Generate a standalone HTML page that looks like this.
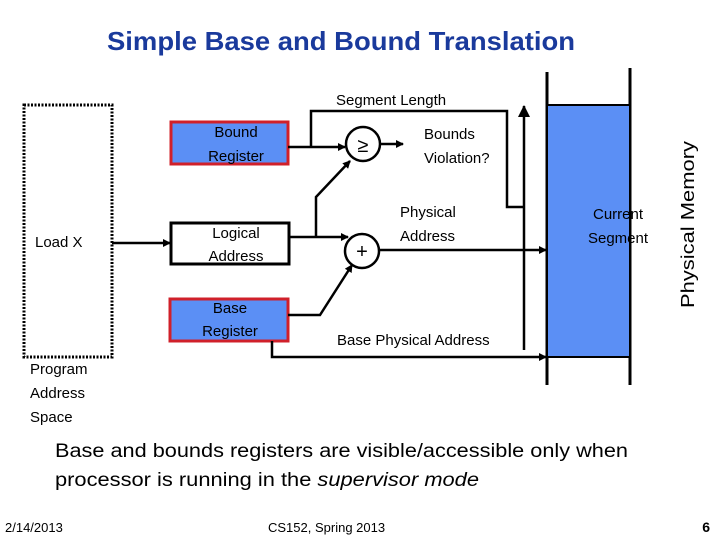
<!DOCTYPE html>
<html><head><meta charset="utf-8"><style>
html,body{margin:0;padding:0;background:#fff;width:720px;height:540px;overflow:hidden}
svg{display:block;font-family:"Liberation Sans",sans-serif}
</style></head><body>
<svg width="720" height="540" viewBox="0 0 720 540" xmlns="http://www.w3.org/2000/svg">
<defs>
<marker id="a" markerWidth="8" markerHeight="8" refX="7" refY="4" orient="auto" markerUnits="userSpaceOnUse">
<path d="M0,0 L8,4 L0,8 z" fill="#000"/></marker>
<marker id="b" markerWidth="12" markerHeight="12" refX="11" refY="6" orient="auto" markerUnits="userSpaceOnUse">
<path d="M0,0 L12,6 L0,12 z" fill="#000"/></marker>
</defs>
<text x="107" y="50" font-size="26" font-weight="bold" fill="#1a3a9c" textLength="468" lengthAdjust="spacingAndGlyphs">Simple Base and Bound Translation</text>

<rect x="24" y="105" width="88" height="252" fill="none" stroke="#000" stroke-width="3" stroke-dasharray="2,1.5"/>
<text x="35" y="247" font-size="15">Load X</text>
<text x="30" y="374" font-size="15">Program</text>
<text x="30" y="398" font-size="15">Address</text>
<text x="30" y="422" font-size="15">Space</text>
<line x1="112" y1="243" x2="170" y2="243" stroke="#000" stroke-width="2.5" marker-end="url(#a)"/>

<line x1="547" y1="72" x2="547" y2="385" stroke="#000" stroke-width="3"/>
<line x1="630" y1="68" x2="630" y2="385" stroke="#000" stroke-width="3"/>
<rect x="547" y="105" width="83" height="252" fill="#5b8ff5" stroke="#000" stroke-width="2"/>
<text x="618" y="219" font-size="15" text-anchor="middle">Current</text>
<text x="618" y="243" font-size="15" text-anchor="middle">Segment</text>
<text transform="translate(694,308) rotate(-90)" font-size="18" textLength="167" lengthAdjust="spacingAndGlyphs">Physical Memory</text>

<rect x="171" y="122" width="117" height="42" fill="#5b8ff5" stroke="#d0202a" stroke-width="3"/>
<text x="236" y="137" font-size="15" text-anchor="middle">Bound</text>
<text x="236" y="161" font-size="15" text-anchor="middle">Register</text>
<rect x="171" y="223" width="118" height="41" fill="#fff" stroke="#000" stroke-width="3"/>
<text x="236" y="238" font-size="15" text-anchor="middle">Logical</text>
<text x="236" y="261" font-size="15" text-anchor="middle">Address</text>
<rect x="170" y="299" width="118" height="42" fill="#5b8ff5" stroke="#d0202a" stroke-width="3"/>
<text x="230" y="313" font-size="15" text-anchor="middle">Base</text>
<text x="230" y="336" font-size="15" text-anchor="middle">Register</text>

<circle cx="363" cy="144" r="17" fill="#fff" stroke="#000" stroke-width="2.5"/>
<text x="363" y="152" font-size="20" text-anchor="middle">≥</text>
<circle cx="362" cy="251" r="17" fill="#fff" stroke="#000" stroke-width="2.5"/>
<text x="362" y="258" font-size="20" text-anchor="middle">+</text>

<g stroke="#000" stroke-width="2.5" fill="none">
<line x1="288" y1="147" x2="345" y2="147" marker-end="url(#a)"/>
<polyline points="311,147 311,111 507,111 507,207 524,207"/>
<line x1="524" y1="350" x2="524" y2="106" marker-end="url(#b)"/>
<line x1="380" y1="144" x2="403" y2="144" marker-end="url(#a)"/>
<line x1="289" y1="237" x2="348" y2="237" marker-end="url(#a)"/>
<polyline points="316,237 316,197 350,161" marker-end="url(#a)"/>
<polyline points="288,315 320,315 352,265" marker-end="url(#a)"/>
<line x1="379" y1="250" x2="546" y2="250" marker-end="url(#a)"/>
<polyline points="272,341 272,357 546,357" marker-end="url(#a)"/>
</g>

<text x="336" y="105" font-size="15">Segment Length</text>
<text x="424" y="139" font-size="15">Bounds</text>
<text x="424" y="163" font-size="15">Violation?</text>
<text x="400" y="217" font-size="15">Physical</text>
<text x="400" y="241" font-size="15">Address</text>
<text x="337" y="345" font-size="15">Base Physical Address</text>

<text x="55" y="457" font-size="19" textLength="573" lengthAdjust="spacingAndGlyphs">Base and bounds registers are visible/accessible only when</text>
<text x="55" y="486" font-size="19" textLength="424" lengthAdjust="spacingAndGlyphs">processor is running in the <tspan font-style="italic">supervisor mode</tspan></text>

<text x="5" y="532" font-size="13">2/14/2013</text>
<text x="268" y="532" font-size="13">CS152, Spring 2013</text>
<text x="710" y="532" font-size="14" font-weight="bold" text-anchor="end">6</text>
</svg>
</body></html>
